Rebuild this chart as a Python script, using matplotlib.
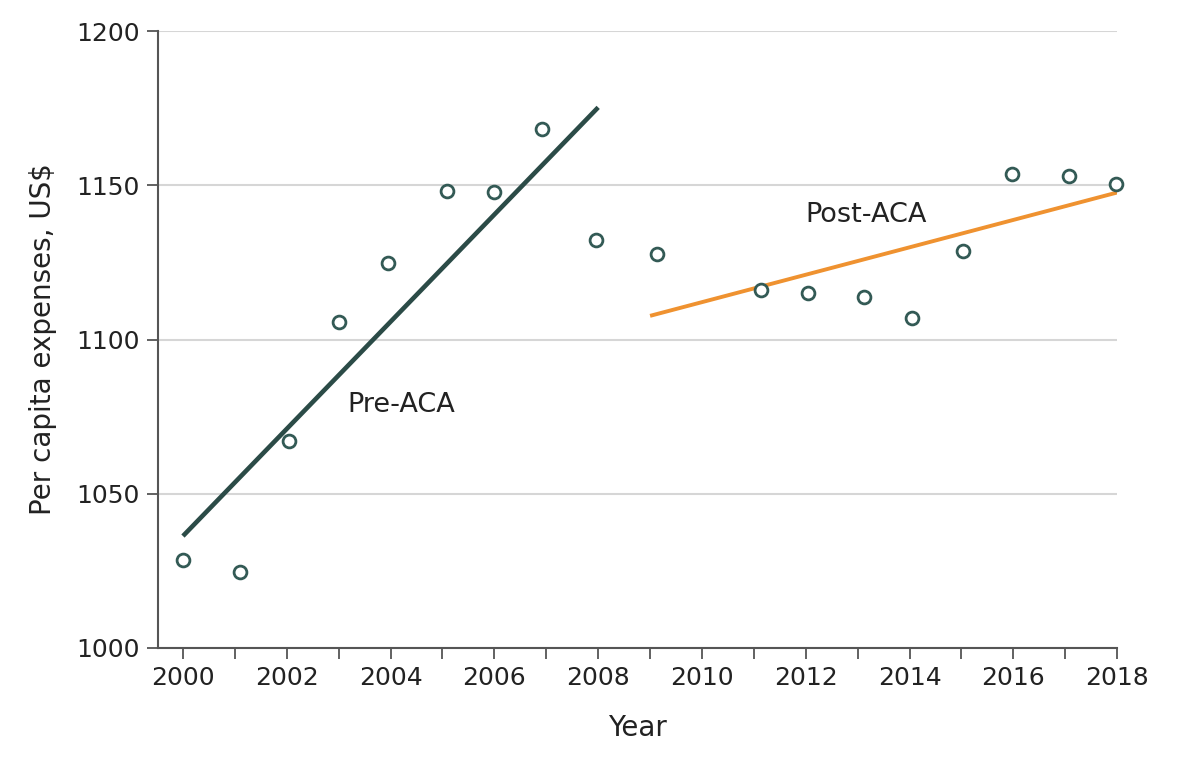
import numpy as np
import matplotlib
matplotlib.use("Agg")
from matplotlib import pyplot as plt
from matplotlib.ticker import MultipleLocator

years = [2000.0, 2001.1, 2002.05, 2003.0, 2003.95, 2005.08, 2006.0, 2006.92, 2007.95,
         2009.13, 2011.13, 2012.05, 2013.12, 2014.05, 2015.02, 2015.98, 2017.08, 2017.98]
expenses = [1028.5, 1024.6, 1067.1, 1105.7, 1124.8, 1148.1, 1147.8, 1168.2, 1132.3,
            1127.7, 1116.0, 1115.1, 1113.8, 1107.0, 1128.7, 1153.8, 1153.0, 1150.5]

# Fitted trend lines (end points)
pre_years = [2000, 2008]
pre_fit = [1036.3, 1175.3]
post_years = [2009, 2018]
post_fit = [1107.7, 1147.7]

fig = plt.figure(figsize=(12, 7.61), dpi=100)
ax = fig.add_axes([0.1317, 0.1485, 0.7993, 0.8105])

ax.plot(pre_years, pre_fit, color="#2b4b47", lw=3.3, solid_capstyle="butt")
ax.plot(post_years, post_fit, color="#ef9230", lw=2.8, solid_capstyle="butt")
ax.scatter(years, expenses, s=85, facecolors="white", edgecolors="#335a55",
           linewidths=2.0, zorder=3, clip_on=False)

ax.text(2004.2, 1078.8, "Pre-ACA", fontsize=19.5, ha="center", va="center", color="#222222")
ax.text(2013.17, 1140.4, "Post-ACA", fontsize=19.5, ha="center", va="center", color="#222222")

ax.set_xlim(1999.52, 2018)
ax.set_ylim(1000, 1200)
ax.xaxis.set_major_locator(MultipleLocator(2))
ax.xaxis.set_minor_locator(MultipleLocator(1))
ax.yaxis.set_major_locator(MultipleLocator(50))
ax.yaxis.grid(True, color="#d6d6d6", lw=1.5)
ax.set_axisbelow(True)

for side in ["top", "right"]:
    ax.spines[side].set_visible(False)
for side in ["left", "bottom"]:
    ax.spines[side].set_color("#555555")
    ax.spines[side].set_linewidth(1.5)

ax.tick_params(axis="both", which="both", direction="out", length=8, width=1.3,
               color="#555555", labelsize=18, labelcolor="#222222", pad=5)

ax.set_xlabel("Year", fontsize=20, color="#222222", labelpad=17)
ax.set_ylabel("Per capita expenses, US$", fontsize=20, color="#222222", labelpad=14)

fig.savefig("out.png", dpi=100)
